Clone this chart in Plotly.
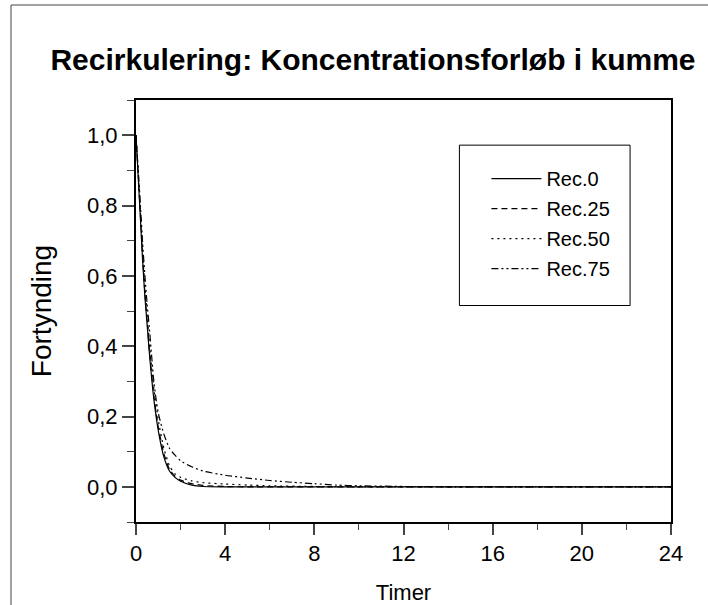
import plotly.graph_objects as go

# time (hours) and dilution values
t_rec0 = [0, 0.1, 0.2, 0.3, 0.4, 0.5, 0.6, 0.8, 1.0, 1.25, 1.5, 1.75, 2.0, 2.5, 3.0, 4.0, 24]
v_rec0 = [1.0, 0.88, 0.76, 0.64, 0.54, 0.46, 0.38, 0.25, 0.16, 0.085, 0.045, 0.027, 0.016, 0.005, 0.001, 0.0, 0.0]

t_rec25 = [0, 0.1, 0.2, 0.3, 0.4, 0.5, 0.6, 0.8, 1.0, 1.25, 1.5, 1.75, 2.0, 2.5, 3.0, 4.0, 5.0, 24]
v_rec25 = [1.0, 0.89, 0.77, 0.65, 0.55, 0.47, 0.39, 0.26, 0.17, 0.095, 0.05, 0.03, 0.019, 0.009, 0.004, 0.001, 0.0, 0.0]

t_rec50 = [0, 0.1, 0.2, 0.3, 0.4, 0.5, 0.6, 0.8, 1.0, 1.25, 1.5, 1.75, 2.0, 2.5, 3.0, 4.0, 5.0, 6.0, 8.0, 10.0, 24]
v_rec50 = [1.0, 0.89, 0.78, 0.66, 0.57, 0.49, 0.41, 0.28, 0.19, 0.11, 0.06, 0.037, 0.027, 0.017, 0.012, 0.008, 0.005, 0.003, 0.001, 0.0, 0.0]

t_rec75 = [0, 0.1, 0.2, 0.3, 0.4, 0.5, 0.6, 0.8, 0.9, 1.0, 1.25, 1.5, 1.75, 2.0, 2.5, 3.0, 4.0, 5.0, 6.0, 7.0, 8.0, 9.0, 10.0, 12.0, 14.0, 24]
v_rec75 = [1.0, 0.9, 0.8, 0.69, 0.6, 0.52, 0.45, 0.3, 0.25, 0.21, 0.15, 0.11, 0.09, 0.074, 0.057, 0.045, 0.033, 0.025, 0.018, 0.013, 0.009, 0.005, 0.003, 0.001, 0.0, 0.0]

names = ["Rec.0", "Rec.25", "Rec.50", "Rec.75"]
dashes = ["solid", "6px,4px", "2px,4px", "7px,3px,2px,3px,2px,3px"]

x_ticks = [0, 4, 8, 12, 16, 20, 24]
y_ticks = [0.0, 0.2, 0.4, 0.6, 0.8, 1.0]

font = "Liberation Sans, Arial, sans-serif"

fig = go.Figure()
series = [(t_rec0, v_rec0), (t_rec25, v_rec25), (t_rec50, v_rec50), (t_rec75, v_rec75)]
for i, (t, v) in enumerate(series):
    fig.add_trace(go.Scatter(x=t, y=v, mode="lines", name=names[i],
                             legendgroup=names[i],
                             line=dict(color="black", width=1.2, dash=dashes[i],
                                       shape="spline", smoothing=0.6)))

fig.update_layout(
    width=708, height=605,
    margin=dict(l=136, r=37, t=100, b=83),
    paper_bgcolor="white", plot_bgcolor="white",
    separators=", ",
    font=dict(family=font, size=22, color="black"),
    title=dict(text="<b>Recirkulering: Koncentrationsforløb i kumme</b>",
               x=0.5268, xanchor="center", y=0.9018, yanchor="middle",
               font=dict(family=font, size=30, color="black")),
    showlegend=True,
    legend=dict(x=0.655, y=0.86, xanchor="left", yanchor="top",
                borderwidth=0, bgcolor="rgba(0,0,0,0)",
                tracegroupgap=1, itemwidth=50,
                font=dict(size=20)),
    xaxis=dict(range=[0, 24], tickvals=x_ticks, ticks="outside", ticklen=11,
               tickwidth=1.5, showline=True, linewidth=2, linecolor="black",
               mirror=True, showgrid=False, zeroline=False, automargin=False,
               minor=dict(dtick=2, tick0=0, ticks="outside", ticklen=6, tickwidth=1.2),
               title=dict(text="Timer", font=dict(size=22), standoff=20)),
    yaxis=dict(range=[-0.1, 1.1], tickvals=y_ticks, tickformat=".1f", ticks="outside",
               ticklen=12, tickwidth=1.5, showline=True, linewidth=2, linecolor="black",
               mirror=True, showgrid=False, zeroline=False, automargin=False,
               minor=dict(dtick=0.1, tick0=0, ticks="outside", ticklen=7, tickwidth=1.2),
               title=dict(text="Fortynding", font=dict(size=28), standoff=27)),
)

# legend box
fig.add_shape(type="rect", xref="paper", yref="paper",
              x0=0.6045, x1=0.9235, y0=0.513, y1=0.893,
              line=dict(color="black", width=1), fillcolor="white", layer="below")

# outer frame of the original picture
fig.add_shape(type="rect", xref="paper", yref="paper",
              x0=-0.2336, x1=1.2, y0=-0.3, y1=1.2251,
              line=dict(color="#444444", width=1), layer="below")

fig.write_html("out.html", config={"displayModeBar": False},
               post_script="document.body.style.margin='0';")
